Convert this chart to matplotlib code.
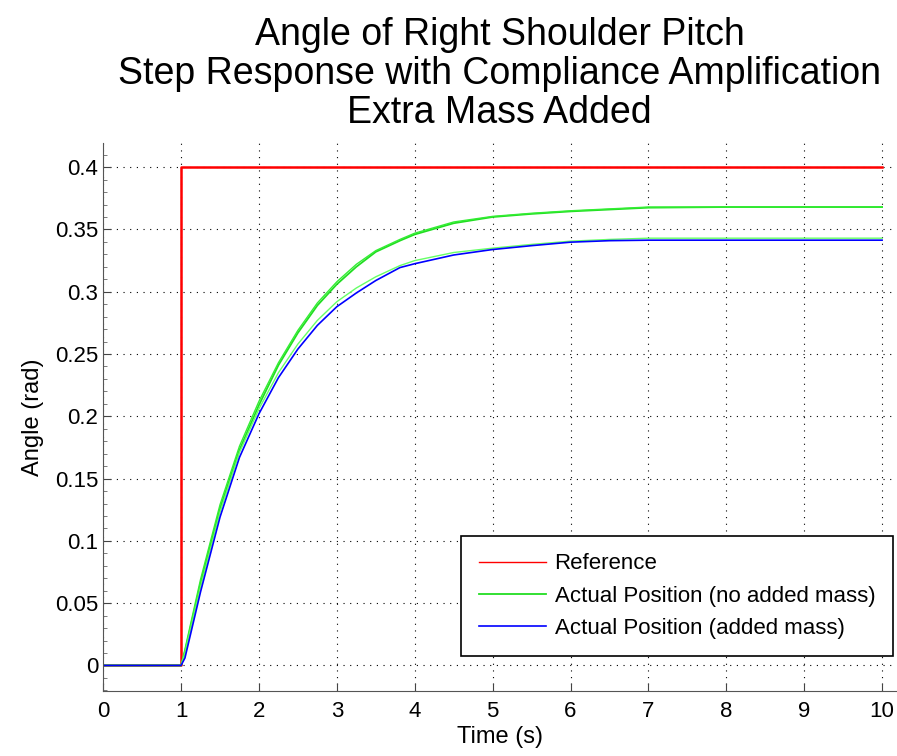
import matplotlib.pyplot as plt
import numpy as np
from matplotlib.ticker import MultipleLocator

plt.rcParams['font.family'] = ['Liberation Sans', 'DejaVu Sans']

# reference step
ref_t = [0, 1, 1, 10]
ref_y = [0, 0, 0.4, 0.4]

# no added mass (two runs)
t_nm = [0, 1.0, 1.05, 1.25, 1.5, 1.75, 2.0, 2.25, 2.5, 2.75, 3.0, 3.25, 3.5, 3.81,
        4.0, 4.5, 5.0, 5.5, 6.0, 6.5, 7.0, 8.0, 9.0, 10.0]
y_nm1 = [0, 0, 0.011, 0.066, 0.126, 0.173, 0.209, 0.241, 0.267, 0.289, 0.306, 0.320,
         0.332, 0.341, 0.346, 0.355, 0.360, 0.3625, 0.3645, 0.366, 0.3675, 0.368, 0.368, 0.368]
y_nm2 = [0, 0, 0.013, 0.069, 0.129, 0.176, 0.212, 0.243, 0.269, 0.291, 0.308, 0.322,
         0.333, 0.342, 0.347, 0.356, 0.3605, 0.363, 0.365, 0.3665, 0.368, 0.368, 0.368, 0.368]

# added mass
t_m = [0, 1.0, 1.05, 1.25, 1.5, 1.75, 2.0, 2.25, 2.5, 2.75, 3.0, 3.25, 3.5, 3.81,
       4.0, 4.5, 5.0, 5.5, 6.0, 6.5, 7.0, 8.0, 9.0, 10.0]
y_m_green = [0, 0, 0.010, 0.063, 0.123, 0.171, 0.206, 0.235, 0.258, 0.277, 0.292, 0.303,
             0.312, 0.321, 0.325, 0.3315, 0.335, 0.338, 0.3406, 0.342, 0.343, 0.343, 0.343, 0.343]
y_m_blue = [0, 0, 0.006, 0.059, 0.119, 0.167, 0.202, 0.231, 0.254, 0.273, 0.288, 0.299,
            0.309, 0.3194, 0.3225, 0.3295, 0.3339, 0.337, 0.3398, 0.341, 0.3414, 0.3414, 0.3414, 0.3414]

fig = plt.figure(figsize=(8.97, 7.56), dpi=100)
ax = fig.add_axes([0.115, 0.086, 0.884, 0.725])

ax.plot(ref_t, ref_y, color='#ff0000', lw=1.8, label='Reference')
ax.plot(t_nm, y_nm1, color='#22dd22', lw=1.3, label='Actual Position (no added mass)')
ax.plot(t_nm, y_nm2, color='#33ee33', lw=1.0)
ax.plot(t_m, y_m_green, color='#66ff66', lw=1.0)
ax.plot(t_m, y_m_blue, color='#0000ff', lw=1.2, label='Actual Position (added mass)')

ax.set_xlim(0, 10.18)
ax.set_ylim(-0.0205, 0.4195)
ax.set_xticks(np.arange(0, 11, 1))
ax.set_yticks([0, 0.05, 0.1, 0.15, 0.2, 0.25, 0.3, 0.35, 0.4])
ax.set_yticklabels(['0', '0.05', '0.1', '0.15', '0.2', '0.25', '0.3', '0.35', '0.4'])
ax.yaxis.set_minor_locator(MultipleLocator(0.01))
ax.tick_params(direction='in', labelsize=16, length=6, color='#444444')
ax.tick_params(axis='x', pad=7)
ax.tick_params(axis='y', which='minor', direction='in', length=3, color='#666666')
ax.grid(True, color='black', linestyle=(0, (1, 5)), lw=0.8)
for s in ['top', 'right']:
    ax.spines[s].set_visible(False)
for s in ['left', 'bottom']:
    ax.spines[s].set_color('#555555')

ax.set_xlabel('Time (s)', fontsize=17, labelpad=3)
ax.set_ylabel('Angle (rad)', fontsize=17, labelpad=8)
ax.set_title('Angle of Right Shoulder Pitch\nStep Response with Compliance Amplification\nExtra Mass Added',
             fontsize=27, linespacing=1.12, pad=14)

leg = ax.legend(loc='lower right', bbox_to_anchor=(0.996, 0.063), fontsize=16, handlelength=3.0,
                handletextpad=0.4, fancybox=False, edgecolor='black', framealpha=1,
                borderpad=0.8, labelspacing=0.5, borderaxespad=0)
leg.get_frame().set_linewidth(1.2)
leg.get_lines()[0].set_linewidth(1.0)

fig.savefig('out.png')
